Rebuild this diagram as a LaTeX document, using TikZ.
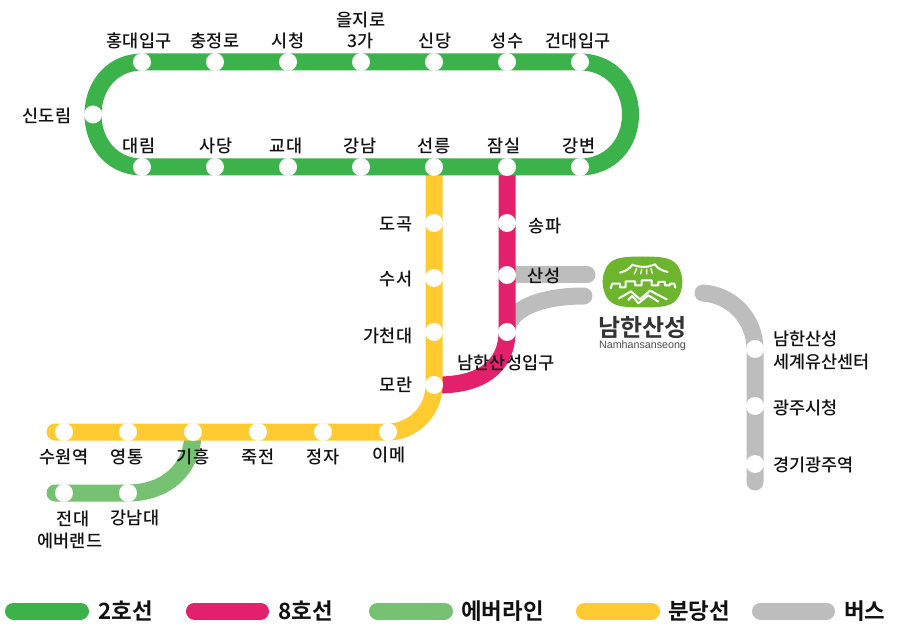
\documentclass[tikz,border=0pt]{standalone}
\usepackage{fontspec}
\setmainfont{Noto Sans CJK KR Medium}
\newfontfamily\legendfont{Noto Sans CJK KR Bold}
\newfontfamily\latinfont{Liberation Sans}
\usetikzlibrary{backgrounds}
\definecolor{lgreen}{HTML}{3CB34A}
\definecolor{lpink}{HTML}{E3206B}
\definecolor{lever}{HTML}{77C272}
\definecolor{lyellow}{HTML}{FFCB30}
\definecolor{lgray}{HTML}{BDBDBD}
\definecolor{logogreen}{HTML}{6CB52D}
\definecolor{ink}{HTML}{111111}
\tikzset{
  stn/.style={circle,fill=white,inner sep=0pt,minimum size=18pt},
  lbl/.style={font=\fontsize{17.5}{20}\selectfont,text=ink,inner sep=0pt,yshift=-1pt},
  lbll/.style={lbl,anchor=west},
  line/.style={line width=17pt,line cap=round,line join=round},
  legbar/.style={line width=17pt,line cap=round},
  legtxt/.style={font=\legendfont\fontsize{22.4}{24}\selectfont,text=ink,inner sep=0pt,anchor=west},
  logoline/.style={draw=white,line width=2pt,line cap=round,line join=round},
  lash/.style={draw=white,line width=1.3pt,line cap=round}
}
\begin{document}
\begin{tikzpicture}[x=1pt,y=-1pt]
\useasboundingbox (0,0) rectangle (900,639);
% Line 2 stations
\node[stn] (hd) at (142,62) {};
\node[stn] (cj) at (215,62) {};
\node[stn] (sc) at (288,62) {};
\node[stn] (ej) at (361,62) {};
\node[stn] (sd) at (434,62) {};
\node[stn] (ss) at (507,62) {};
\node[stn] (gd) at (580,62) {};
\node[stn] (dl) at (142,167) {};
\node[stn] (sa) at (215,167) {};
\node[stn] (gy) at (288,167) {};
\node[stn] (gn) at (361,167) {};
\node[stn] (sl) at (434,167) {};
\node[stn] (js) at (507,167) {};
\node[stn] (gb) at (580,167) {};
\node[stn] (sdr) at (93,114.5) {};
\coordinate (re) at (630.5,114.5);
% Bundang
\node[stn] (dg) at (434,223) {};
\node[stn] (sus) at (434,278) {};
\node[stn] (gc) at (434,332) {};
\node[stn] (mr) at (434,385) {};
\node[stn] (im) at (388,432) {};
\node[stn] (jj) at (323,432) {};
\node[stn] (jk) at (258,432) {};
\node[stn] (gh) at (193,432) {};
\node[stn] (yt) at (128,432) {};
\node[stn] (sw) at (64,432) {};
\coordinate (swe) at (55,432);
% Line 8
\node[stn] (sp) at (507,223) {};
\node[stn] (sse) at (507,275) {};
\node[stn] (nh) at (507,332) {};
% Everline
\node[stn] (ev) at (64,493) {};
\node[stn] (gnd) at (128,493) {};
\coordinate (eve) at (55,493);
% Bus
\node[stn] (nw) at (755,349) {};
\node[stn] (gs) at (755,406) {};
\node[stn] (gg) at (755,464) {};
\coordinate (bus1) at (587,275);
\coordinate (bus2) at (584,296);
\coordinate (bus3) at (703,293);
\coordinate (bus4) at (755,482);
\begin{scope}[on background layer]
  \fill[white] (0,0) rectangle (900,639);
  \draw[line,lgray] (sse.center) -- (bus1);
  \draw[line,lgray] (nh.center) .. controls (507,312) and (535,296) .. (bus2);
  \draw[line,lgray] (bus3) .. controls (733,295) and (755,320) .. (nw.center) -- (gs.center) -- (gg.center) -- (bus4);
  \draw[line,lpink,line cap=butt] (js.center) -- (sp.center) -- (sse.center) -- (nh.center) .. controls (507,365) and (483,386) .. (mr.center);
  \draw[line,lever] (eve) -- (gnd.center) .. controls (165,493) and (193,470) .. (gh.center);
  \draw[line,lyellow] (sl.center) -- (dg.center) -- (sus.center) -- (gc.center) -- (mr.center) .. controls (434,412) and (412,432) .. (im.center) -- (jj.center) -- (jk.center) -- (gh.center) -- (yt.center) -- (sw.center) -- (swe);
  \draw[line,lgreen] (hd.center) -- (cj.center) -- (sc.center) -- (ej.center) -- (sd.center) -- (ss.center) -- (gd.center)
     .. controls (610,62) and (630.5,85) .. (re) .. controls (630.5,144) and (610,167) .. (gb.center)
     -- (js.center) -- (sl.center) -- (gn.center) -- (gy.center) -- (sa.center) -- (dl.center)
     .. controls (113,167) and (93,144) .. (sdr.center) .. controls (93,85) and (113,62) .. (hd.center) -- cycle;
\end{scope}
% Labels
\node[lbl] (t1) at (139,40) {홍대입구};
\node[lbl] (t2) at (215,40) {충정로};
\node[lbl] (t3) at (288,40) {시청};
\node[lbl] (t4a) at (361,19) {을지로};
\node[lbl] (t4b) at (361,40) {3가};
\node[lbl] (t5) at (435,40) {신당};
\node[lbl] (t6) at (507,40) {성수};
\node[lbl] (t7) at (578,40) {건대입구};
\node[lbl] (t8) at (47,115) {신도림};
\node[lbl] (b1) at (139,145) {대림};
\node[lbl] (b2) at (216,145) {사당};
\node[lbl] (b3) at (286,145) {교대};
\node[lbl] (b4) at (360,145) {강남};
\node[lbl] (b5) at (434,145) {선릉};
\node[lbl] (b6) at (504,145) {잠실};
\node[lbl] (b7) at (579,145) {강변};
\node[lbl] (v1) at (396,223) {도곡};
\node[lbl] (v2) at (396,278) {수서};
\node[lbl] (v3) at (388,335) {가천대};
\node[lbl] (v4) at (396,384) {모란};
\node[lbl] (p1) at (545,225) {송파};
\node[lbl] (p2) at (544,275) {산성};
\node[lbl] (p3) at (506,362) {남한산성입구};
\node[lbl] (h1) at (64,456) {수원역};
\node[lbl] (h2) at (127,456) {영통};
\node[lbl] (h3) at (193,456) {기흥};
\node[lbl] (h4) at (258,456) {죽전};
\node[lbl] (h5) at (323,456) {정자};
\node[lbl] (h6) at (389,454) {이메};
\node[lbl] (e1) at (73,518) {전대};
\node[lbl] (e2) at (70,540) {에버랜드};
\node[lbl] (e3) at (135,517) {강남대};
\node[lbll] (r1) at (773,338) {남한산성};
\node[lbll] (r2) at (773,361) {세계유산센터};
\node[lbll] (r3) at (773,407) {광주시청};
\node[lbll] (r4) at (773,464) {경기광주역};
% Logo
\fill[logogreen] (642.5,256.5) .. controls (664,256.5) and (674,258) .. (679,268) .. controls (683.5,277) and (683.5,287) .. (679,296) .. controls (674,306) and (664,307.5) .. (642.5,307.5) .. controls (621,307.5) and (611,306) .. (606,296) .. controls (601.5,287) and (601.5,277) .. (606,268) .. controls (611,258) and (621,256.5) .. cycle;
\begin{scope}[shift={(595,250)},x=0.3333pt,y=-0.3333pt]
  \draw[logoline] (75,68) .. controls (95,62) and (105,55) .. (112,44) .. controls (135,53) and (160,53) .. (180,43) .. controls (187,55) and (200,62) .. (218,66);
  \draw[lash] (118,72) -- (125,56) (137,72) -- (140,58) (155,72) -- (155,58) (172,70) -- (168,56);
  \draw[logoline] (47,115) -- (52,101) -- (75,101) -- (75,112) -- (92,112) -- (92,94) -- (120,94) -- (120,106) -- (140,106) -- (140,91) -- (170,91) -- (170,106) -- (190,106) -- (190,96) -- (210,96) -- (210,106) -- (225,106) -- (225,101) -- (238,101) -- (241,113);
  \draw[logoline] (72,145) -- (108,124) -- (135,148) -- (165,122) -- (215,148);
  \draw[logoline] (100,150) -- (112,138) -- (130,160) -- (160,136) -- (190,155);
\end{scope}
\node[font=\legendfont\fontsize{24}{26}\selectfont,text=black!80,inner sep=0pt,yshift=-1pt] (logot) at (642.5,327) {남한산성};
\node[font=\latinfont\fontsize{10.7}{12}\selectfont,text=black!70,inner sep=0pt] (logol) at (642.5,346) {Namhansanseong};
% Legend
\coordinate (a1) at (13.5,611); \coordinate (a2) at (80.5,611);
\coordinate (c1) at (194.5,611); \coordinate (c2) at (260.5,611);
\coordinate (d1) at (377.5,611); \coordinate (d2) at (444.5,611);
\coordinate (f1) at (584.5,611); \coordinate (f2) at (651.5,611);
\coordinate (g1) at (760.5,611); \coordinate (g2) at (826.5,611);
\draw[legbar,lgreen] (a1) -- (a2);
\draw[legbar,lpink] (c1) -- (c2);
\draw[legbar,lever] (d1) -- (d2);
\draw[legbar,lyellow] (f1) -- (f2);
\draw[legbar,lgray] (g1) -- (g2);
\node[legtxt] (l1) at (98,611) {2호선};
\node[legtxt] (l2) at (278,611) {8호선};
\node[legtxt] (l3) at (461,611) {에버라인};
\node[legtxt] (l4) at (668,611) {분당선};
\node[legtxt] (l5) at (844,611) {버스};
\end{tikzpicture}
\end{document}
